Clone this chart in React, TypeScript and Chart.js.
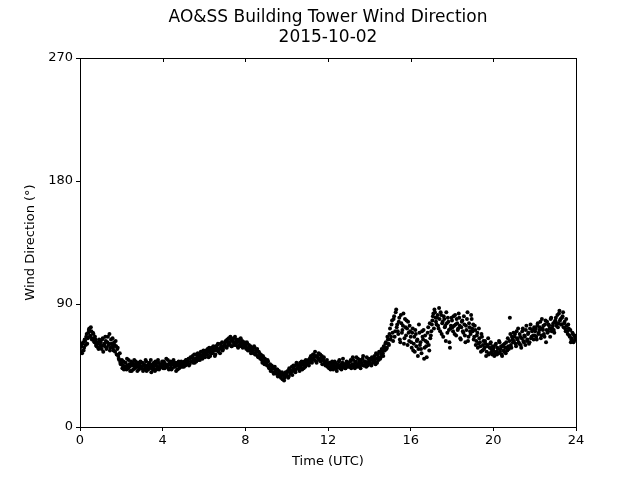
import React, { useEffect, useRef } from "react";
import { Chart, registerables } from "chart.js";

Chart.register(...registerables);

const titleLines = ["AO&SS Building Tower Wind Direction", "2015-10-02"];
const xLabel = "Time (UTC)";
const yLabel = "Wind Direction (°)";
const xTicks = [0, 4, 8, 12, 16, 20, 24];
const yTicks = [0, 90, 180, 270];
const sampleStepHours = 0.05; // each list: one reading every 3 minutes
const secondOffsetHours = 0.025; // second list sits 1.5 minutes later

// Wind direction (degrees), readings at hh:00, hh:03, ... (20 per hour)
const windDirA: number[] = [
  /* 00 */ 57, 60, 54, 62, 58, 63, 66, 61, 69, 72, 67, 70, 65, 68, 62, 64, 59, 61, 57, 63,
  /* 01 */ 62, 57, 65, 60, 59, 63, 58, 66, 61, 56, 64, 60, 58, 62, 55, 59, 57, 52, 49, 47,
  /* 02 */ 46, 43, 48, 44, 47, 42, 45, 49, 44, 46, 41, 47, 45, 43, 48, 44, 46, 42, 45, 47,
  /* 03 */ 44, 41, 46, 43, 48, 45, 42, 47, 44, 40, 46, 43, 45, 48, 42, 44, 47, 43, 45, 46,
  /* 04 */ 45, 48, 43, 46, 44, 49, 42, 47, 45, 43, 48, 46, 44, 41, 47, 45, 43, 46, 48, 44,
  /* 05 */ 46, 48, 45, 49, 47, 50, 46, 51, 48, 52, 49, 47, 53, 50, 54, 51, 49, 55, 52, 53,
  /* 06 */ 54, 51, 56, 53, 55, 58, 52, 57, 54, 59, 56, 53, 58, 60, 55, 57, 61, 58, 56, 59,
  /* 07 */ 60, 63, 58, 62, 65, 61, 64, 59, 63, 61, 66, 60, 62, 58, 64, 61, 59, 63, 60, 62,
  /* 08 */ 60, 57, 61, 58, 56, 59, 55, 57, 54, 58, 53, 56, 52, 55, 51, 53, 49, 52, 48, 50,
  /* 09 */ 47, 45, 48, 43, 46, 42, 44, 40, 43, 41, 39, 42, 38, 40, 37, 39, 35, 38, 36, 40,
  /* 10 */ 38, 41, 37, 42, 40, 44, 41, 43, 45, 42, 46, 44, 43, 47, 45, 42, 46, 48, 44, 47,
  /* 11 */ 46, 49, 47, 51, 48, 50, 53, 49, 52, 47, 51, 54, 50, 48, 52, 49, 51, 47, 46, 49,
  /* 12 */ 46, 43, 47, 44, 48, 42, 45, 47, 43, 46, 44, 49, 45, 42, 47, 44, 46, 43, 48, 45,
  /* 13 */ 47, 44, 49, 45, 51, 46, 43, 48, 45, 50, 47, 44, 49, 46, 52, 45, 48, 44, 47, 50,
  /* 14 */ 47, 50, 45, 49, 48, 52, 46, 50, 53, 49, 55, 51, 57, 54, 59, 56, 62, 58, 64, 60,
  /* 15 */ 72, 66, 78, 63, 81, 70, 86, 75, 68, 80, 62, 76, 71, 83, 65, 73, 78, 60, 69, 74,
  /* 16 */ 66, 58, 72, 61, 55, 68, 63, 52, 75, 60, 57, 70, 64, 50, 67, 59, 62, 73, 56, 65,
  /* 17 */ 70, 78, 83, 86, 80, 75, 82, 72, 79, 84, 68, 77, 81, 73, 63, 76, 80, 71, 58, 74,
  /* 18 */ 78, 70, 74, 82, 67, 76, 72, 80, 65, 73, 78, 69, 75, 62, 71, 84, 66, 73, 68, 79,
  /* 19 */ 70, 64, 74, 60, 67, 58, 72, 62, 55, 66, 60, 57, 63, 52, 59, 65, 54, 61, 57, 53,
  /* 20 */ 56, 52, 60, 55, 58, 54, 62, 57, 53, 59, 56, 61, 54, 58, 65, 57, 80, 60, 66, 62,
  /* 21 */ 63, 68, 59, 65, 72, 61, 66, 58, 70, 63, 67, 60, 74, 64, 69, 62, 75, 66, 71, 64,
  /* 22 */ 67, 72, 64, 76, 69, 73, 65, 79, 71, 68, 75, 62, 77, 70, 74, 66, 80, 72, 76, 69,
  /* 23 */ 78, 74, 82, 76, 85, 79, 75, 81, 73, 77, 70, 74, 68, 72, 66, 62, 65, 68, 63, 66,
];

// Wind direction (degrees), readings at hh:01.5, hh:04.5, ... (20 per hour)
const windDirB: number[] = [
  /* 00 */ 55, 59, 61, 56, 64, 60, 68, 65, 71, 66, 73, 64, 69, 63, 66, 60, 62, 58, 64, 60,
  /* 01 */ 59, 64, 55, 61, 66, 57, 62, 60, 68, 58, 61, 65, 56, 60, 63, 53, 58, 50, 54, 46,
  /* 02 */ 49, 45, 42, 47, 44, 50, 43, 46, 41, 48, 45, 42, 49, 46, 44, 41, 47, 44, 48, 43,
  /* 03 */ 47, 42, 45, 49, 41, 44, 46, 43, 49, 45, 42, 47, 41, 46, 44, 49, 42, 46, 44, 48,
  /* 04 */ 43, 47, 45, 50, 44, 46, 43, 48, 42, 46, 49, 44, 47, 45, 42, 48, 46, 44, 47, 45,
  /* 05 */ 44, 47, 49, 46, 48, 45, 50, 48, 51, 47, 53, 50, 48, 52, 49, 53, 51, 55, 50, 56,
  /* 06 */ 52, 55, 53, 57, 51, 56, 54, 58, 55, 57, 52, 59, 56, 61, 57, 54, 59, 62, 57, 60,
  /* 07 */ 62, 59, 64, 60, 62, 66, 59, 63, 65, 60, 62, 64, 59, 63, 60, 65, 62, 58, 61, 59,
  /* 08 */ 58, 62, 56, 60, 57, 54, 58, 56, 59, 53, 55, 57, 51, 54, 50, 52, 47, 51, 46, 49,
  /* 09 */ 46, 49, 44, 45, 41, 45, 43, 39, 44, 40, 42, 37, 41, 39, 36, 40, 38, 34, 37, 39,
  /* 10 */ 40, 36, 43, 39, 41, 38, 45, 42, 40, 47, 43, 45, 41, 44, 48, 46, 43, 45, 49, 46,
  /* 11 */ 48, 45, 50, 52, 47, 53, 51, 55, 48, 52, 50, 49, 53, 51, 46, 50, 48, 45, 47, 44,
  /* 12 */ 44, 47, 42, 45, 46, 43, 48, 44, 41, 45, 48, 43, 46, 44, 50, 46, 43, 45, 47, 44,
  /* 13 */ 45, 48, 43, 46, 49, 44, 47, 51, 44, 46, 49, 43, 47, 50, 45, 48, 46, 51, 45, 48,
  /* 14 */ 49, 46, 51, 47, 50, 48, 54, 47, 51, 55, 50, 53, 56, 52, 58, 61, 57, 66, 61, 68,
  /* 15 */ 64, 75, 69, 79, 66, 84, 73, 70, 77, 64, 82, 69, 74, 61, 79, 67, 72, 77, 63, 70,
  /* 16 */ 62, 69, 56, 66, 71, 59, 64, 57, 69, 62, 54, 66, 71, 58, 63, 51, 69, 60, 76, 67,
  /* 17 */ 75, 81, 72, 84, 77, 80, 74, 87, 70, 82, 76, 66, 79, 74, 84, 69, 77, 62, 72, 80,
  /* 18 */ 73, 81, 68, 75, 79, 71, 83, 74, 64, 77, 70, 81, 67, 74, 79, 63, 76, 70, 82, 72,
  /* 19 */ 75, 66, 71, 63, 69, 61, 65, 59, 68, 56, 63, 58, 61, 55, 60, 53, 58, 62, 55, 59,
  /* 20 */ 58, 54, 61, 53, 57, 63, 55, 59, 52, 60, 55, 58, 62, 56, 59, 63, 68, 58, 64, 69,
  /* 21 */ 66, 61, 70, 64, 62, 68, 60, 65, 72, 62, 66, 71, 63, 68, 61, 72, 65, 70, 67, 73,
  /* 22 */ 70, 66, 74, 68, 71, 77, 67, 72, 74, 66, 78, 71, 69, 75, 72, 79, 70, 74, 71, 77,
  /* 23 */ 80, 76, 73, 83, 78, 75, 80, 84, 76, 72, 79, 70, 75, 67, 71, 64, 69, 62, 67, 64,
];

const FONT = "'DejaVu Sans', sans-serif";

export default function App() {
  const canvasRef = useRef<HTMLCanvasElement | null>(null);

  useEffect(() => {
    document.body.style.margin = "0";
    const canvas = canvasRef.current;
    if (!canvas) return;

    const pointsA = windDirA.map((v, i) => ({ x: i * sampleStepHours, y: v }));
    const pointsB = windDirB.map((v, i) => ({ x: i * sampleStepHours + secondOffsetHours, y: v }));

    const framePlugin = {
      id: "frame",
      afterDraw(chart: any) {
        const { ctx, chartArea } = chart;
        const xs = chart.scales.x;
        ctx.save();
        ctx.strokeStyle = "#000";
        ctx.lineWidth = 1;
        ctx.strokeRect(
          Math.round(chartArea.left) + 0.5,
          Math.round(chartArea.top) + 0.5,
          Math.round(chartArea.right - chartArea.left),
          Math.round(chartArea.bottom - chartArea.top)
        );
        ctx.beginPath();
        for (const t of xTicks) {
          const px = Math.round(xs.getPixelForValue(t)) + 0.5;
          ctx.moveTo(px, Math.round(chartArea.top));
          ctx.lineTo(px, Math.round(chartArea.top) + 4);
        }
        ctx.stroke();
        ctx.fillStyle = "#000";
        ctx.font = `17px ${FONT}`;
        ctx.textAlign = "center";
        ctx.textBaseline = "middle";
        const cx = (chartArea.left + chartArea.right) / 2;
        ctx.fillText(titleLines[0], cx, 18);
        ctx.fillText(titleLines[1], cx, 38);
        ctx.restore();
      },
    };

    const pointStyle = {
      backgroundColor: "#000",
      borderColor: "#000",
      borderWidth: 0,
      pointRadius: 2,
      pointHoverRadius: 2,
    };

    const chart = new Chart(canvas, {
      type: "scatter",
      data: {
        datasets: [
          { data: pointsA, ...pointStyle },
          { data: pointsB, ...pointStyle },
        ],
      },
      options: {
        responsive: false,
        animation: false,
        events: [],
        layout: { padding: { top: 58, right: 64, left: 0, bottom: 0 } },
        plugins: {
          legend: { display: false },
          tooltip: { enabled: false },
          title: { display: false },
        },
        scales: {
          x: {
            type: "linear",
            min: 0,
            max: 24,
            afterBuildTicks: (scale: any) => {
              scale.ticks = xTicks.map((v) => ({ value: v }));
            },
            afterFit: (scale: any) => {
              scale.height = 53;
            },
            ticks: {
              color: "#000",
              font: { family: FONT, size: 13 },
              padding: 2,
              maxRotation: 0,
              autoSkip: false,
            },
            grid: {
              drawOnChartArea: false,
              drawTicks: true,
              tickLength: 4,
              color: "#000",
            },
            border: { display: true, color: "#000", width: 1 },
            title: {
              display: true,
              text: xLabel,
              color: "#000",
              font: { family: FONT, size: 13 },
              padding: { top: 0, bottom: 11 },
            },
          },
          y: {
            type: "linear",
            min: 0,
            max: 270,
            afterBuildTicks: (scale: any) => {
              scale.ticks = yTicks.map((v) => ({ value: v }));
            },
            afterFit: (scale: any) => {
              scale.width = 80;
            },
            ticks: {
              color: "#000",
              font: { family: FONT, size: 13 },
              padding: 3,
              autoSkip: false,
            },
            grid: {
              drawOnChartArea: false,
              drawTicks: true,
              tickLength: 4,
              color: "#000",
            },
            border: { display: true, color: "#000", width: 1 },
            title: {
              display: true,
              text: yLabel,
              color: "#000",
              font: { family: FONT, size: 13 },
              padding: { top: 23, bottom: 0 },
            },
          },
        },
      },
      plugins: [framePlugin],
    });

    return () => chart.destroy();
  }, []);

  return <canvas ref={canvasRef} width={640} height={480} style={{ display: "block" }} />;
}
